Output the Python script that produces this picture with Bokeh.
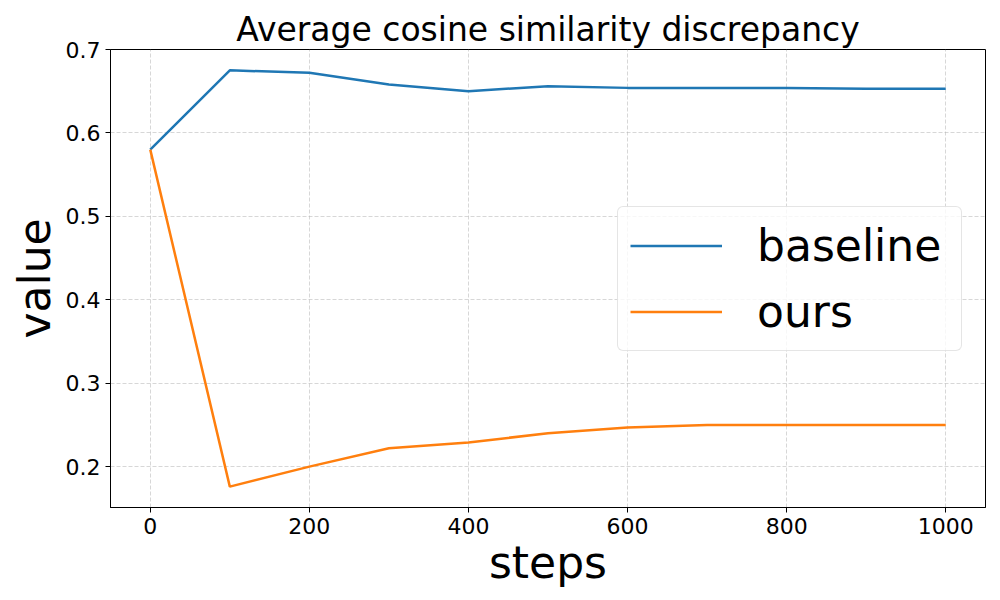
from bokeh.plotting import figure
from bokeh.models import Range1d, Legend, LegendItem, FixedTicker, Spacer
from bokeh.layouts import row, column
from bokeh.embed import file_html
from bokeh.resources import INLINE

steps = [0, 100, 200, 300, 400, 500, 600, 700, 800, 900, 1000]
baseline = [0.580, 0.675, 0.672, 0.658, 0.650, 0.656, 0.654, 0.654, 0.654, 0.653, 0.653]
ours = [0.580, 0.176, 0.200, 0.222, 0.229, 0.240, 0.247, 0.250, 0.250, 0.250, 0.250]
x_ticks = [0, 200, 400, 600, 800, 1000]
y_ticks = [0.2, 0.3, 0.4, 0.5, 0.6, 0.7]

FONT = "DejaVu Sans"

p = figure(frame_width=875, frame_height=458, output_backend="svg", toolbar_location=None,
           x_range=Range1d(-50, 1050), y_range=Range1d(0.151, 0.7),
           min_border_left=0, min_border_right=7, min_border_top=0, min_border_bottom=0,
           title="Average cosine similarity discrepancy")

p.title.text_font = FONT
p.title.text_font_size = "33px"
p.title.text_font_style = "normal"
p.title.align = "center"
p.title.text_color = "black"
p.title.standoff = 1

r1 = p.line(steps, baseline, line_color="#1f77b4", line_width=2.5)
r2 = p.line(steps, ours, line_color="#ff7f0e", line_width=2.5)

p.outline_line_color = "black"
p.outline_line_width = 1
p.outline_line_alpha = 1

for ax in (p.xaxis[0], p.yaxis[0]):
    ax.major_label_text_font = FONT
    ax.major_label_text_font_size = "22px"
    ax.major_label_text_color = "black"
    ax.axis_label_text_font = FONT
    ax.axis_label_text_font_size = "44px"
    ax.axis_label_text_font_style = "normal"
    ax.axis_label_text_color = "black"
    ax.minor_tick_line_color = None
    ax.major_tick_out = 5
    ax.major_tick_in = 0
    ax.axis_line_color = "black"
    ax.major_tick_line_color = "black"

p.xaxis[0].ticker = FixedTicker(ticks=x_ticks)
p.yaxis[0].ticker = FixedTicker(ticks=y_ticks)
p.xaxis[0].axis_label = "steps"
p.yaxis[0].axis_label = "value"
p.xaxis[0].axis_label_standoff = 0
p.yaxis[0].axis_label_standoff = 3

for g in (p.xgrid[0], p.ygrid[0]):
    g.grid_line_color = "#b0b0b0"
    g.grid_line_alpha = 0.5
    g.grid_line_dash = "4 2"
    g.grid_line_width = 1

legend = Legend(items=[LegendItem(label="baseline", renderers=[r1]),
                       LegendItem(label="ours", renderers=[r2])],
                location=(507, 156))
legend.label_text_font = FONT
legend.label_text_font_size = "44px"
legend.label_text_color = "black"
legend.glyph_width = 92
legend.glyph_height = 53
legend.label_height = 53
legend.label_width = 192
legend.label_standoff = 35
legend.padding = 12
legend.spacing = 13
legend.margin = 0
legend.border_line_color = "#cccccc"
legend.border_line_width = 1
legend.border_radius = 6
legend.background_fill_color = "white"
legend.background_fill_alpha = 0.8
p.add_layout(legend, "center")

layout = column(Spacer(height=7), row(Spacer(width=5), p))

open("out.html", "w").write(file_html(layout, INLINE))
